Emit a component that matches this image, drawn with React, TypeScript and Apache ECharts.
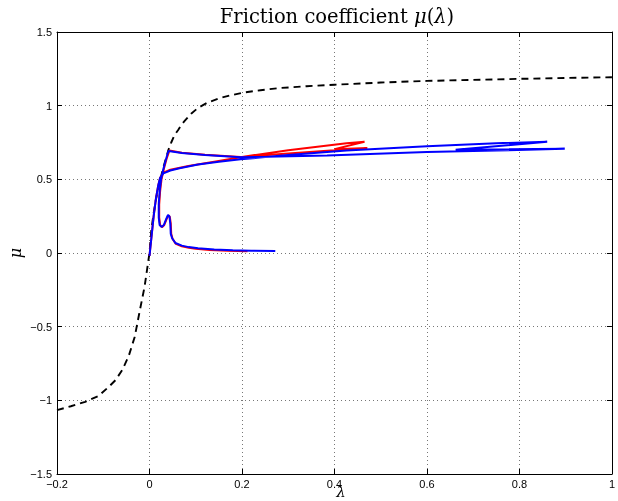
import React, { useEffect, useRef } from "react";
import * as echarts from "echarts";

// Static friction curve mu(lambda) (black dashed)
const dashedLambda = [-0.2, -0.17, -0.139, -0.11, -0.088, -0.0735, -0.059, -0.045, -0.032, -0.02, -0.0107, 0, 0.004, 0.009, 0.015, 0.02, 0.025, 0.03, 0.035, 0.041, 0.047, 0.054, 0.062, 0.069, 0.077, 0.09, 0.105, 0.125, 0.15, 0.175, 0.2, 0.24, 0.283, 0.34, 0.4, 0.5, 0.6, 0.7, 0.8, 0.9, 1.0];
const dashedMu = [-1.067, -1.04, -1.01, -0.97, -0.908, -0.863, -0.795, -0.7, -0.57, -0.376, -0.23, 0, 0.156, 0.27, 0.38, 0.45, 0.52, 0.58, 0.635, 0.7, 0.75, 0.8, 0.835, 0.87, 0.9, 0.945, 0.985, 1.02, 1.05, 1.07, 1.087, 1.105, 1.12, 1.132, 1.142, 1.157, 1.168, 1.175, 1.182, 1.188, 1.193];

// Red trajectory
const redLambda = [0.0, 0.004, 0.009, 0.014, 0.019, 0.023, 0.03, 0.045, 0.084, 0.14, 0.2, 0.3, 0.426, 0.465, 0.4, 0.471, 0.4, 0.3, 0.197, 0.12, 0.07, 0.043, 0.037, 0.031, 0.026, 0.023, 0.021, 0.021, 0.023, 0.027, 0.032, 0.037, 0.041, 0.044, 0.046, 0.047, 0.05, 0.057, 0.07, 0.085, 0.1, 0.13, 0.17, 0.212];
const redMu = [-0.02, 0.1, 0.25, 0.37, 0.46, 0.51, 0.545, 0.565, 0.59, 0.62, 0.652, 0.698, 0.745, 0.755, 0.705, 0.712, 0.698, 0.675, 0.652, 0.667, 0.68, 0.695, 0.64, 0.57, 0.5, 0.42, 0.33, 0.24, 0.19, 0.175, 0.19, 0.23, 0.255, 0.245, 0.2, 0.13, 0.095, 0.062, 0.045, 0.036, 0.028, 0.02, 0.015, 0.012];

// Blue trajectory
const blueLambda = [0.0, 0.004, 0.009, 0.014, 0.019, 0.023, 0.03, 0.045, 0.065, 0.105, 0.15, 0.197, 0.3, 0.426, 0.6, 0.75, 0.86, 0.662, 0.898, 0.75, 0.6, 0.384, 0.197, 0.12, 0.07, 0.041, 0.036, 0.03, 0.025, 0.022, 0.02, 0.02, 0.022, 0.026, 0.031, 0.036, 0.04, 0.043, 0.045, 0.046, 0.049, 0.056, 0.07, 0.085, 0.105, 0.14, 0.18, 0.22, 0.272];
const blueMu = [-0.02, 0.1, 0.25, 0.37, 0.46, 0.51, 0.54, 0.56, 0.575, 0.6, 0.62, 0.636, 0.665, 0.695, 0.725, 0.745, 0.755, 0.7, 0.707, 0.695, 0.685, 0.662, 0.65, 0.665, 0.678, 0.692, 0.64, 0.57, 0.5, 0.42, 0.33, 0.24, 0.19, 0.177, 0.19, 0.23, 0.258, 0.25, 0.2, 0.13, 0.1, 0.068, 0.05, 0.04, 0.033, 0.024, 0.018, 0.015, 0.013];

const xTicks = { min: -0.2, max: 1, interval: 0.2 };
const yTicks = { min: -1.5, max: 1.5, interval: 0.5 };

const zip = (a: number[], b: number[]) => a.map((v, i) => [v, b[i]]);

const fmt = (v: number) => {
  const r = Math.round(v * 10) / 10;
  return (r < 0 ? "\u2212" : "") + String(Math.abs(r));
};

export default function App() {
  const ref = useRef<HTMLDivElement>(null);
  useEffect(() => {
    if (!ref.current) return;
    const chart = echarts.init(ref.current, undefined, { renderer: "svg" });
    const axisLine = { show: true, onZero: false, lineStyle: { color: "#000", width: 1 } };
    const axisTick = { show: true, inside: true, length: 5, lineStyle: { color: "#000", width: 1 } };
    const labelStyle = { color: "#000", fontSize: 11, fontFamily: "'Liberation Sans', Arial, sans-serif", showMinLabel: true, showMaxLabel: true };
    const split = { show: true, lineStyle: { color: "#777", width: 1, type: [1, 3] } };
    const lineBase = { type: "line", showSymbol: false, symbol: "none", smooth: false, xAxisIndex: 0, yAxisIndex: 0 };
    const serif = "'DejaVu Serif', 'Liberation Serif', serif";
    chart.setOption({
      animation: false,
      grid: { left: 57, right: 1, top: 32, bottom: 27, containLabel: false },
      xAxis: [
        { type: "value", position: "bottom", ...xTicks, axisLine, axisTick, axisLabel: { ...labelStyle, margin: 4, formatter: fmt }, splitLine: split },
        { type: "value", position: "top", ...xTicks, axisLine, axisTick, axisLabel: { show: false }, splitLine: { show: false } },
      ],
      yAxis: [
        { type: "value", position: "left", ...yTicks, axisLine, axisTick, axisLabel: { ...labelStyle, margin: 5, formatter: fmt }, splitLine: split },
        { type: "value", position: "right", ...yTicks, axisLine, axisTick, axisLabel: { show: false }, splitLine: { show: false } },
      ],
      series: [
        { ...lineBase, name: "static", data: zip(dashedLambda, dashedMu), lineStyle: { color: "#000", width: 1.9, type: [7, 5] }, z: 2 },
        { ...lineBase, name: "red", data: zip(redLambda, redMu), lineStyle: { color: "#ff0000", width: 2 }, z: 3 },
        { ...lineBase, name: "blue", data: zip(blueLambda, blueMu), lineStyle: { color: "#0000ff", width: 2 }, z: 4 },
      ],
      graphic: [
        {
          type: "text",
          x: 337,
          y: 16,
          style: {
            text: "{a|Friction coefficient }{b|\u03bc}{a|(}{b|\u03bb}{a|)}",
            rich: {
              a: { fontFamily: serif, fontSize: 19.5, fill: "#000" },
              b: { fontFamily: serif, fontStyle: "italic", fontSize: 19.5, fill: "#000" },
            },
            align: "center",
            verticalAlign: "middle",
          },
        },
        {
          type: "text",
          x: 341,
          y: 492,
          style: { text: "\u03bb", fontFamily: serif, fontStyle: "italic", fontSize: 15, fill: "#000", align: "center", verticalAlign: "middle" },
        },
        {
          type: "text",
          x: 15,
          y: 253,
          rotation: Math.PI / 2,
          style: { text: "\u03bc", fontFamily: serif, fontStyle: "italic", fontSize: 16, fill: "#000", align: "center", verticalAlign: "middle" },
        },
      ],
    });
    return () => chart.dispose();
  }, []);
  return <div ref={ref} style={{ position: "fixed", left: 0, top: 0, width: 618, height: 501 }} />;
}
